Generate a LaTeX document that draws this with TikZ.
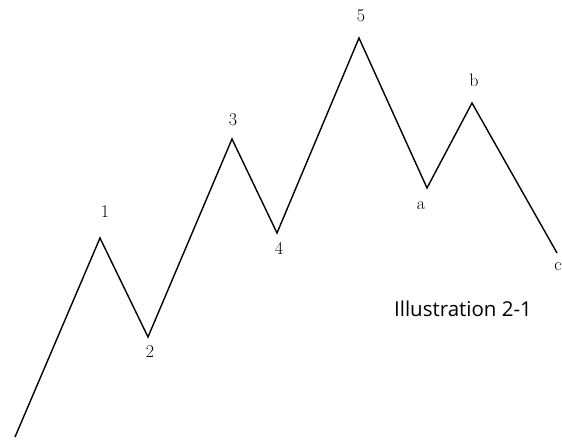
\documentclass[tikz,border=0pt]{standalone}
\usepackage{fontspec}
\newfontfamily\capfont{Open Sans}
\usetikzlibrary{positioning}
\tikzset{wlab/.style={font=\fontsize{18}{20}\selectfont,inner sep=0pt},
	wline/.style={line width=1.4pt,line join=miter}}

\begin{document}
\begin{tikzpicture}[x=1pt,y=-1pt]
	\useasboundingbox (0,0) rectangle (562,439);
	% wave points
	\coordinate (w0) at (15,437);
	\coordinate (w1) at (100,238);
	\coordinate (w2) at (148,337);
	\coordinate (w3) at (232,139);
	\coordinate (w4) at (277,233);
	\coordinate (w5) at (359,38);
	\coordinate (wa) at (427,188);
	\coordinate (wb) at (472,103);
	\coordinate (wc) at (557,253);
	\draw[wline] (w0) -- (w1) -- (w2) -- (w3) -- (w4) -- (w5) -- (wa) -- (wb) -- (wc);
	% labels
	\foreach \n/\t/\lx/\ly in {1/1/105/212,2/2/150/352,3/3/233/120,4/4/279/248,5/5/361/16,a/a/421/206,b/b/474/80,c/c/558/267}{
		\node[wlab] (l\n) at (\lx,\ly) {\t};
	}
	\node[font=\capfont\fontsize{20.5}{24}\selectfont,inner sep=0pt] (cap) at (463,309) {Illustration 2-1};
\end{tikzpicture}
\end{document}
